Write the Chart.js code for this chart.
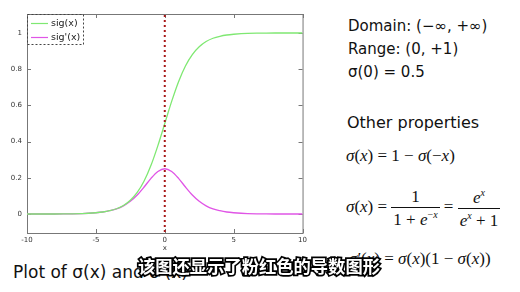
<!DOCTYPE html>
<html lang="zh">
<head>
    <meta charset="UTF-8">
    <title>Sigmoid</title>
    <script src="https://cdn.jsdelivr.net/npm/chart.js"></script>
    <style>
        body {
            margin: 0;
            padding: 0;
            width: 520px;
            height: 292px;
            background: #fff;
            position: relative;
            overflow: hidden;
            font-family: 'DejaVu Sans', sans-serif;
        }

        #plot {
            position: absolute;
            left: 0;
            top: 0;
        }

        .note {
            position: absolute;
            color: #111;
            font-size: 15px;
            white-space: nowrap;
            line-height: 1;
        }

        .math {
            position: absolute;
            font-family: 'Liberation Serif', serif;
            font-size: 17px;
            color: #111;
            white-space: nowrap;
            line-height: 1;
        }

        .math i { font-style: italic; }

        .frac {
            display: inline-block;
            vertical-align: middle;
            text-align: center;
        }

        .frac span { display: block; padding: 0 2px; }
        .frac .num { border-bottom: 1px solid #111; padding-bottom: 2px; }
        .frac .den { padding-top: 2px; }

        .caption {
            position: absolute;
            left: 13px;
            top: 262px;
            font-size: 17px;
            color: #111;
            white-space: nowrap;
        }

        .subtitle {
            position: absolute;
            left: 138px;
            top: 257px;
            font-family: 'Noto Sans CJK SC', sans-serif;
            font-weight: 700;
            font-size: 17.3px;
            line-height: 1;
            color: #fff;
            -webkit-text-stroke: 3.5px #000;
            paint-order: stroke fill;
            white-space: nowrap;
        }
    </style>
</head>
<body>
    <canvas id="plot" width="310" height="255"></canvas>

    <div class="note" style="left:348px; top:19px;">Domain: (−∞, +∞)</div>
    <div class="note" style="left:348px; top:42px;">Range: (0, +1)</div>
    <div class="note" style="left:348px; top:65px;">σ(0) = 0.5</div>
    <div class="note" style="left:347px; top:115px; font-size:16px;">Other properties</div>

    <div class="math" style="left:346px; top:147px;"><i>σ</i>(<i>x</i>) = 1 − <i>σ</i>(−<i>x</i>)</div>
    <div class="math" style="left:346px; top:188px;"><i>σ</i>(<i>x</i>) =
        <span class="frac"><span class="num">1</span><span class="den">1 + <i>e</i><sup style="font-size:10px">−<i>x</i></sup></span></span> =
        <span class="frac"><span class="num"><i>e</i><sup style="font-size:10px"><i>x</i></sup></span><span class="den"><i>e</i><sup style="font-size:10px"><i>x</i></sup> + 1</span></span>
    </div>
    <div class="math" style="left:349px; top:250px;"><i>σ</i>′(<i>x</i>) = <i>σ</i>(<i>x</i>)(1 − <i>σ</i>(<i>x</i>))</div>

    <div class="caption">Plot of σ(x) and σ'(x)</div>
    <div class="subtitle">该图还显示了粉红色的导数图形</div>

    <script>
        // valores
        const xValues = [-10, -9, -8, -7, -6, -5, -4.5, -4, -3.5, -3, -2.5, -2, -1.5, -1, -0.5, 0,
                         0.5, 1, 1.5, 2, 2.5, 3, 3.5, 4, 4.5, 5, 6, 7, 8, 9, 10];
        const sigValues = [0.000, 0.000, 0.000, 0.001, 0.002, 0.007, 0.011, 0.018, 0.029, 0.047, 0.076,
                           0.119, 0.182, 0.269, 0.378, 0.500, 0.622, 0.731, 0.818, 0.881, 0.924,
                           0.953, 0.971, 0.982, 0.989, 0.993, 0.998, 0.999, 1.000, 1.000, 1.000];
        const dsigValues = [0.000, 0.000, 0.000, 0.001, 0.002, 0.007, 0.011, 0.018, 0.028, 0.045, 0.070,
                            0.105, 0.149, 0.197, 0.235, 0.250, 0.235, 0.197, 0.149, 0.105, 0.070,
                            0.045, 0.028, 0.018, 0.011, 0.007, 0.002, 0.001, 0.000, 0.000, 0.000];
        const markerX = [0, 0];
        const markerY = [-0.1, 1.1];
        const xTicks = [-10, -5, 0, 5, 10];
        const yTicks = [0, 0.2, 0.4, 0.6, 0.8, 1];
        const seriesLabels = ['sig(x)', "sig'(x)"];

        const toPoints = (xs, ys) => xs.map((x, i) => ({ x: x, y: ys[i] }));

        // Moldura estilo gnuplot com marcas para dentro
        const framePlugin = {
            id: 'frame',
            beforeDatasetsDraw(chart) {
                const { ctx, chartArea: a, scales } = chart;
                ctx.save();
                ctx.strokeStyle = '#777';
                ctx.lineWidth = 1;
                ctx.strokeRect(a.left + 0.5, a.top + 0.5, a.right - a.left, a.bottom - a.top);
                ctx.beginPath();
                scales.x.ticks.forEach(t => {
                    const px = Math.round(scales.x.getPixelForValue(t.value)) + 0.5;
                    ctx.moveTo(px, a.bottom); ctx.lineTo(px, a.bottom - 4);
                    ctx.moveTo(px, a.top); ctx.lineTo(px, a.top + 4);
                });
                scales.y.ticks.forEach(t => {
                    const py = Math.round(scales.y.getPixelForValue(t.value)) + 0.5;
                    ctx.moveTo(a.left, py); ctx.lineTo(a.left + 4, py);
                    ctx.moveTo(a.right, py); ctx.lineTo(a.right - 4, py);
                });
                ctx.stroke();
                ctx.restore();
            },
            afterDatasetsDraw(chart) {
                const { ctx, chartArea: a } = chart;
                ctx.save();
                ctx.fillStyle = '#fff';
                ctx.fillRect(a.left + 1, a.top + 1, 55, 29);
                ctx.strokeStyle = '#444';
                ctx.setLineDash([2, 2]);
                ctx.strokeRect(a.left + 0.5, a.top + 0.5, 56, 30);
                ctx.setLineDash([]);
                ctx.font = '9.5px "DejaVu Sans"';
                ctx.textBaseline = 'middle';
                chart.data.datasets.slice(0, 2).forEach((ds, i) => {
                    const y = a.top + 9.5 + i * 14;
                    ctx.strokeStyle = ds.borderColor;
                    ctx.lineWidth = 1.2;
                    ctx.beginPath();
                    ctx.moveTo(a.left + 4, y); ctx.lineTo(a.left + 21, y);
                    ctx.stroke();
                    ctx.fillStyle = '#222';
                    ctx.fillText(ds.label, a.left + 24, y);
                });
                ctx.restore();
            }
        };

        const config = {
            type: 'line',
            data: {
                datasets: [
                    {
                        label: seriesLabels[0],
                        data: toPoints(xValues, sigValues),
                        borderColor: '#7fe872',
                        borderWidth: 1.3,
                        pointRadius: 0,
                        cubicInterpolationMode: 'monotone'
                    },
                    {
                        label: seriesLabels[1],
                        data: toPoints(xValues, dsigValues),
                        borderColor: '#e055e6',
                        borderWidth: 1.3,
                        pointRadius: 0,
                        cubicInterpolationMode: 'monotone'
                    },
                    {
                        label: 'x = 0',
                        data: toPoints(markerX, markerY),
                        borderColor: '#a81818',
                        borderWidth: 2,
                        borderDash: [2, 3],
                        pointRadius: 0,
                        order: -1
                    }
                ]
            },
            options: {
                responsive: false,
                animation: false,
                layout: { padding: { left: 0, top: 14, right: 7, bottom: 0 } },
                plugins: {
                    legend: { display: false },
                    tooltip: { enabled: false }
                },
                scales: {
                    x: {
                        type: 'linear',
                        min: -10,
                        max: 10,
                        grid: { display: false, drawTicks: false },
                        border: { display: false },
                        afterBuildTicks: s => { s.ticks = xTicks.map(v => ({ value: v })); },
                        afterFit: s => { s.height = 22; },
                        ticks: {
                            color: '#333',
                            font: { size: 7, family: 'DejaVu Sans' },
                            padding: 3,
                            maxRotation: 0
                        },
                        title: {
                            display: true,
                            text: 'x',
                            color: '#333',
                            font: { size: 7, family: 'DejaVu Sans' },
                            padding: { top: 0, bottom: 3 }
                        }
                    },
                    y: {
                        type: 'linear',
                        min: -0.105,
                        max: 1.105,
                        grid: { display: false, drawTicks: false },
                        border: { display: false },
                        afterBuildTicks: s => { s.ticks = yTicks.map(v => ({ value: v })); },
                        afterFit: s => { s.width = 27; },
                        ticks: {
                            color: '#333',
                            font: { size: 7, family: 'DejaVu Sans' },
                            padding: 5,
                            callback: v => String(v)
                        }
                    }
                }
            },
            plugins: [framePlugin]
        };

        new Chart(document.getElementById('plot').getContext('2d'), config);
    </script>
</body>
</html>
